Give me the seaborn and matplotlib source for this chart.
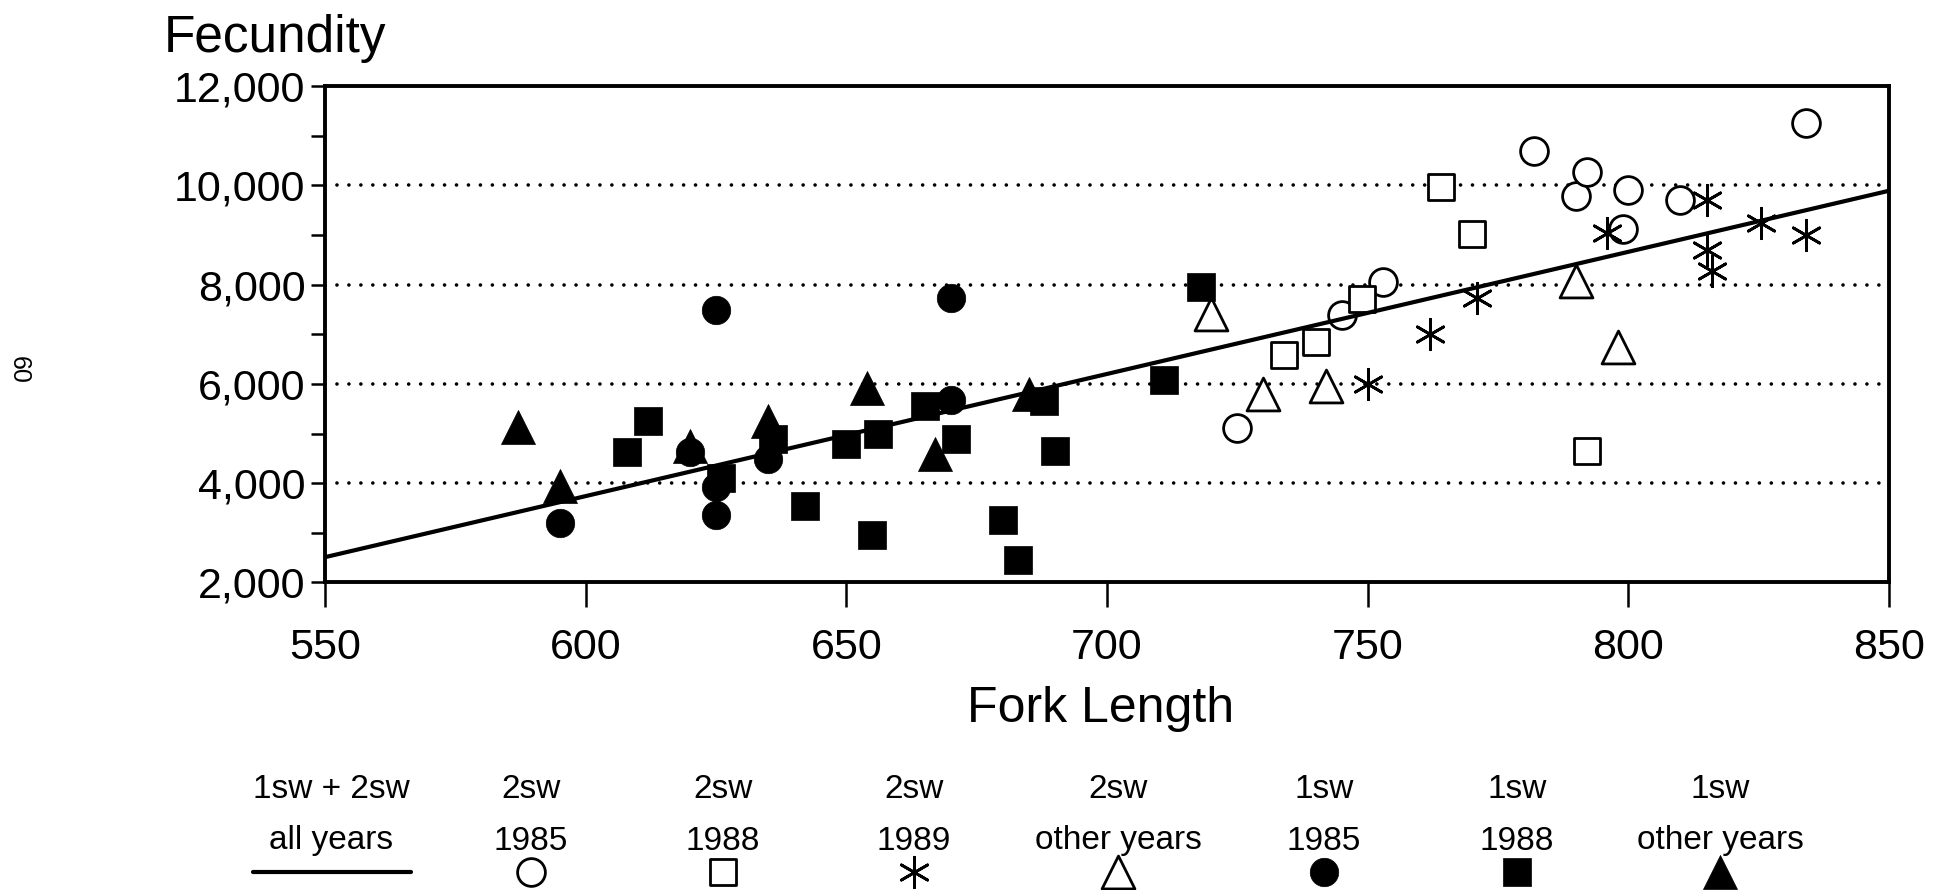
import numpy as np
import pandas as pd
import seaborn as sns
import matplotlib
matplotlib.use("Agg")
import matplotlib.pyplot as plt
from matplotlib import font_manager as fm
from matplotlib.ticker import FuncFormatter, MultipleLocator

# ---------------- data ----------------
sw2_1985_x = [725, 745, 753, 782, 790, 792, 799, 800, 810, 834]
sw2_1985_y = [5120, 7380, 8050, 10700, 9780, 10260, 9110, 9900, 9700, 11250]

sw2_1988_x = [734, 740, 749, 764, 770, 792]
sw2_1988_y = [6580, 6850, 7710, 9960, 9020, 4640]

sw2_1989_x = [750, 762, 771, 796, 815, 815, 816, 825.5, 834]
sw2_1989_y = [6000, 7010, 7730, 9040, 9700, 8690, 8270, 9250, 8990]

sw2_other_x = [720, 730, 742, 790, 798]
sw2_other_y = [7400, 5800, 5960, 8080, 6750]

sw1_1985_x = [595, 620, 625, 625, 625, 635, 670, 670]
sw1_1985_y = [3200, 4620, 7480, 3930, 3360, 4480, 7740, 5680]

sw1_1988_x = [608, 612, 626, 636, 642, 650, 655, 656, 665, 671, 680, 683, 688, 690, 711, 718]
sw1_1988_y = [4620, 5250, 4100, 4900, 3550, 4790, 2950, 5000, 5550, 4900, 3250, 2450, 5650, 4650, 6070, 7950]

sw1_other_x = [587, 595, 620, 635, 654, 667, 685]
sw1_other_y = [5125, 3950, 4740, 5260, 5910, 4580, 5800]

# regression line "1sw + 2sw all years" (end points)
fit_x = [550, 850]
fit_y = [2510, 9890]

legend_top = ["1sw + 2sw", "2sw", "2sw", "2sw", "2sw", "1sw", "1sw", "1sw"]
legend_bottom = ["all years", "1985", "1988", "1989", "other years", "1985", "1988", "other years"]

x_ticks = [550, 600, 650, 700, 750, 800, 850]
y_ticks = [2000, 4000, 6000, 8000, 10000, 12000]

# ---------------- styling ----------------
sns.set_theme(style="white")
FONT = "Liberation Sans"
plt.rcParams["font.family"] = [FONT, "DejaVu Sans"]
for k in ["text.color", "axes.labelcolor", "xtick.color", "ytick.color", "axes.edgecolor"]:
    plt.rcParams[k] = "black"


def has_font(name):
    try:
        fm.findfont(fm.FontProperties(family=name), fallback_to_default=False)
        return True
    except Exception:
        return False


if has_font("Liberation Sans Narrow"):
    LEG_FONT, LEG_SIZE = "Liberation Sans Narrow", 28
else:
    LEG_FONT, LEG_SIZE = "Liberation Sans", 24

open_o = dict(marker="o", s=400, facecolor="white", edgecolor="black", linewidth=2.0)
open_s = dict(marker="s", s=360, facecolor="white", edgecolor="black", linewidth=2.0)
star = dict(marker=(6, 2, 0), s=480, color="black", linewidth=2.0)
open_t = dict(marker="^", s=560, facecolor="white", edgecolor="black", linewidth=2.0)
fill_o = dict(marker="o", s=420, color="black", edgecolor="black", linewidth=0.5)
fill_s = dict(marker="s", s=380, color="black", edgecolor="black", linewidth=0.5)
fill_t = dict(marker="^", s=600, color="black", edgecolor="black", linewidth=0.5)

series = [
    (sw2_1985_x, sw2_1985_y, open_o),
    (sw2_1988_x, sw2_1988_y, open_s),
    (sw2_1989_x, sw2_1989_y, star),
    (sw2_other_x, sw2_other_y, open_t),
    (sw1_1985_x, sw1_1985_y, fill_o),
    (sw1_1988_x, sw1_1988_y, fill_s),
    (sw1_other_x, sw1_other_y, fill_t),
]

fig = plt.figure(figsize=(19.37, 8.90), dpi=100)
ax = fig.add_axes([0.16779, 0.34551, 0.80743, 0.55787])

for xs, ys, st in series:
    sns.scatterplot(x=xs, y=ys, ax=ax, zorder=3, legend=False, **st)

sns.lineplot(x=fit_x, y=fit_y, ax=ax, color="black", linewidth=3.0, zorder=4)

ax.set_xlim(550, 850)
ax.set_ylim(2000, 12000)
ax.set_xticks(x_ticks)
ax.set_yticks(y_ticks)
ax.yaxis.set_minor_locator(MultipleLocator(1000))
ax.yaxis.set_major_formatter(FuncFormatter(lambda v, p: f"{int(v):,}"))

for sp in ax.spines.values():
    sp.set_linewidth(2.8)
    sp.set_color("black")

ax.tick_params(axis="x", which="major", direction="out", length=18, width=1.8,
               pad=15, labelsize=31, color="black", bottom=True)
ax.tick_params(axis="y", which="major", direction="out", length=10, width=1.8,
               pad=4, labelsize=31, color="black", left=True)
ax.tick_params(axis="y", which="minor", direction="out", length=10, width=1.8,
               color="black", left=True)

for yv in y_ticks[1:-1]:
    ax.axhline(yv, color="black", linewidth=2.6, linestyle=(0, (0.01, 3.3)),
               dash_capstyle="round", zorder=1)

ax.set_xlabel("Fork Length", fontsize=36, color="black")
ax.xaxis.set_label_coords(0.496, -0.281)
ax.xaxis.label.set_va("baseline")

ax.set_ylabel("Fecundity", fontsize=37, color="black", rotation=0)
ax.yaxis.set_label_coords(-0.103, 1.0685)
ax.yaxis.label.set_ha("left")
ax.yaxis.label.set_va("baseline")

# page number from the scan
fig.text(0.0096, 0.584, "60", rotation=-90, fontsize=18, ha="center", va="center")

# ---------------- custom legend below the plot ----------------
lax = fig.add_axes([0, 0, 1, 1], facecolor="none")
lax.set_xlim(0, 1937)
lax.set_ylim(890, 0)
lax.axis("off")

col_x = [331, 531, 723, 914, 1118, 1324, 1517, 1720]
row1_y, row2_y, sym_y = 790, 841, 872

for cx, t1, t2 in zip(col_x, legend_top, legend_bottom):
    lax.text(cx, row1_y, t1, ha="center", va="center", fontsize=LEG_SIZE, family=LEG_FONT)
    lax.text(cx, row2_y, t2, ha="center", va="center", fontsize=LEG_SIZE, family=LEG_FONT)

lax.plot([253, 411], [sym_y, sym_y], color="black", linewidth=3.0)
for cx, (_, _, st) in zip(col_x[1:], series):
    lax.scatter([cx], [sym_y], **st)

fig.savefig("out.png", dpi=100, facecolor="white")
